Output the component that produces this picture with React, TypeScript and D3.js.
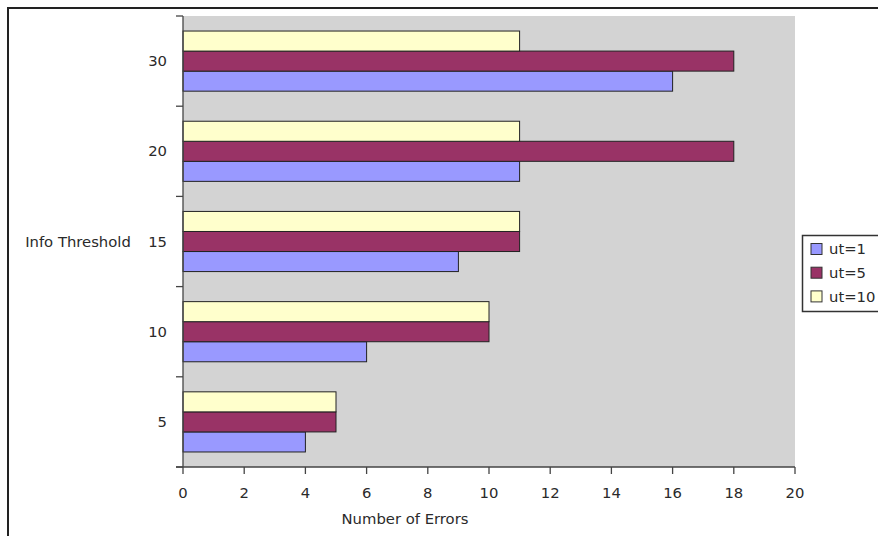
import React from "react";
import * as d3 from "d3";

const categories = ["30", "20", "15", "10", "5"];
const seriesNames = ["ut=1", "ut=5", "ut=10"];
const ut1 = [16, 11, 9, 6, 4];
const ut5 = [18, 18, 11, 10, 5];
const ut10 = [11, 11, 11, 10, 5];
const xTicks = [0, 2, 4, 6, 8, 10, 12, 14, 16, 18, 20];
const colors = ["#9999ff", "#993366", "#ffffcc"];

const W = 878;
const H = 536;
const plot = { left: 183, right: 795, top: 16, bottom: 467 };

export default function App() {
  const series = [ut1, ut5, ut10];
  const x = d3.scaleLinear().domain([0, 20]).range([plot.left, plot.right]);
  const y = d3.scaleBand().domain(categories).range([plot.top, plot.bottom]).padding(0);
  const bw = y.bandwidth();
  // within each band: ut=10 on top, then ut=5, then ut=1
  const inner = d3
    .scaleBand()
    .domain(["2", "1", "0"])
    .range([bw / 6, (bw * 5) / 6])
    .padding(0);
  const boundaries = [...categories.map((c) => y(c) as number), plot.bottom];
  const font = "'DejaVu Sans', sans-serif";
  const textColor = "#2a2a2a";
  const fs = 14.8;

  return (
    <svg
      width={W}
      height={H}
      style={{ position: "absolute", left: 0, top: 0, background: "#fff" }}
      fontFamily={font}
    >
      <rect x={8} y={8} width={W + 10} height={H + 10} fill="#fff" stroke="#222" strokeWidth={2} />
      <rect
        x={plot.left}
        y={plot.top}
        width={plot.right - plot.left}
        height={plot.bottom - plot.top}
        fill="#d3d3d3"
      />
      {categories.map((c, ci) =>
        series.map((s, si) => (
          <rect
            key={`${c}-${si}`}
            x={x(0)}
            y={(y(c) as number) + (inner(String(si)) as number)}
            width={x(s[ci]) - x(0)}
            height={inner.bandwidth()}
            fill={colors[si]}
            stroke="#222"
            strokeWidth={1}
          />
        ))
      )}
      {/* y axis */}
      <line x1={plot.left} x2={plot.left} y1={plot.top} y2={plot.bottom} stroke="#444" strokeWidth={1.3} />
      {boundaries.map((b, i) => (
        <line key={i} x1={plot.left - 7} x2={plot.left} y1={b} y2={b} stroke="#444" strokeWidth={1.3} />
      ))}
      {categories.map((c) => (
        <text
          key={c}
          x={167}
          y={(y(c) as number) + bw / 2}
          dy="0.35em"
          textAnchor="end"
          fontSize={fs}
          fill={textColor}
        >
          {c}
        </text>
      ))}
      {/* x axis */}
      <line x1={plot.left - 7} x2={plot.right} y1={plot.bottom} y2={plot.bottom} stroke="#444" strokeWidth={1.3} />
      {xTicks.map((t) => (
        <g key={t}>
          <line x1={x(t)} x2={x(t)} y1={plot.bottom} y2={plot.bottom + 7} stroke="#444" strokeWidth={1.3} />
          <text x={x(t)} y={498} textAnchor="middle" fontSize={fs} fill={textColor}>
            {t}
          </text>
        </g>
      ))}
      <text x={78} y={247} textAnchor="middle" fontSize={fs} fill={textColor}>
        Info Threshold
      </text>
      <text x={405} y={524} textAnchor="middle" fontSize={fs} fill={textColor}>
        Number of Errors
      </text>
      {/* legend */}
      <rect x={802.5} y={235.5} width={90} height={76} fill="#fff" stroke="#333" strokeWidth={1.5} />
      {seriesNames.map((n, i) => (
        <g key={n}>
          <rect
            x={811}
            y={243.5 + i * 23.7}
            width={11}
            height={11}
            fill={colors[i]}
            stroke="#333"
            strokeWidth={1}
          />
          <text x={829} y={249 + i * 23.7} dy="0.35em" fontSize={fs} fill={textColor}>
            {n}
          </text>
        </g>
      ))}
    </svg>
  );
}
